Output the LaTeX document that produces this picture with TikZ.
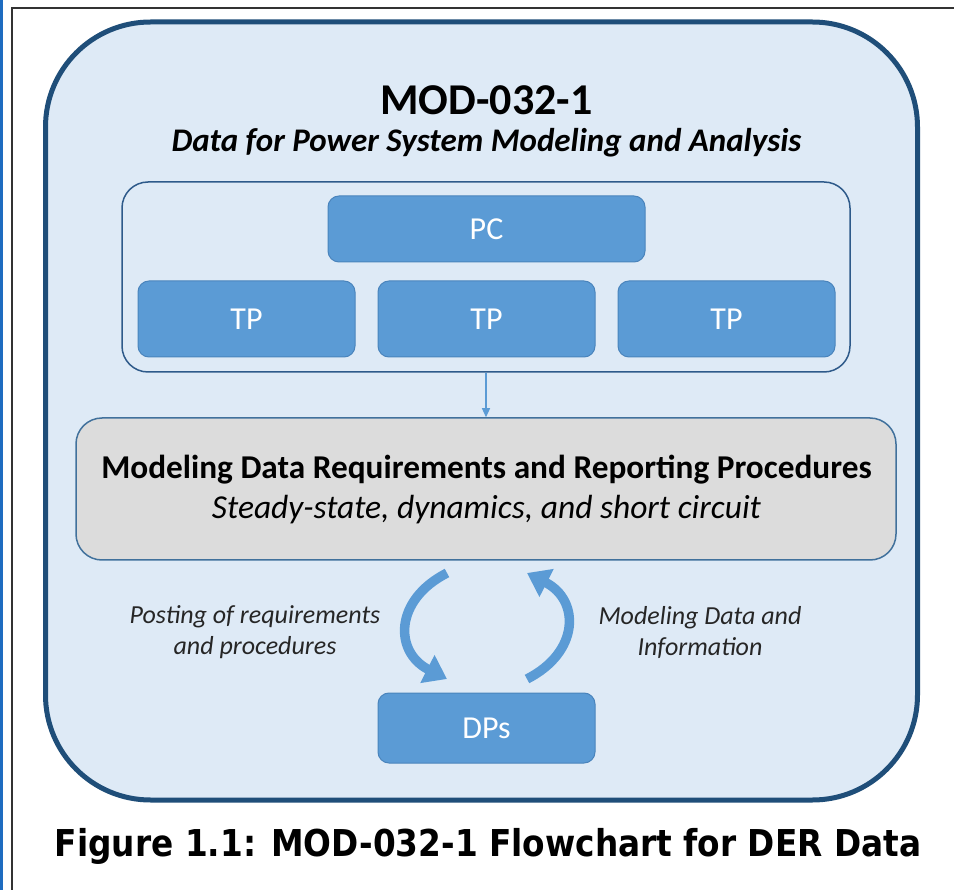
\documentclass[tikz,border=0pt]{standalone}
\usepackage{fontspec}
\setmainfont{Carlito}
\newfontfamily\capfont{DejaVu Sans}
\usetikzlibrary{arrows.meta}
\definecolor{frameblue}{HTML}{1E6CC0}
\definecolor{outerfill}{HTML}{DEEAF6}
\definecolor{outerline}{HTML}{1F4E79}
\definecolor{innerline}{HTML}{2E5A8A}
\definecolor{boxblue}{HTML}{5B9BD5}
\definecolor{boxline}{HTML}{4A84BC}
\definecolor{grayfill}{HTML}{DCDCDC}
\definecolor{grayline}{HTML}{41719C}
\tikzset{
  bluebox/.style={draw=boxline, line width=1pt, fill=boxblue, rounded corners=11pt,
    text=white, font=\fontsize{32}{36}\selectfont, inner sep=0pt},
  cyclearrow/.style={draw=boxblue, line width=9.5pt,
    -{Triangle[length=22pt,width=30pt]}},
  labeltext/.style={font=\itshape\fontsize{26}{31}\selectfont, align=center, text=black!85},
}
\begin{document}
\begin{tikzpicture}[x=1pt,y=-1pt]
\useasboundingbox (0,0) rectangle (954,890);
\fill[white] (0,0) rectangle (954,890);
% page frame
\draw[frameblue, line width=3pt] (1.5,0) -- (1.5,890);
\draw[black!80, line width=2pt] (12,890) -- (12,8) -- (954,8);
% outer standard box
\node[draw=outerline, line width=5pt, fill=outerfill, rounded corners=105pt,
  minimum width=872pt, minimum height=778pt, inner sep=0pt] (outer) at (481.5,411) {};
\node[font=\bfseries\fontsize{44}{48}\selectfont] (title) at (486.5,100) {MOD-032-1};
\node[font=\bfseries\itshape\fontsize{33}{36}\selectfont] (subtitle) at (486.5,143)
  {Data for Power System Modeling and Analysis};
% entities group
\node[draw=innerline, line width=1.5pt, rounded corners=26pt,
  minimum width=728pt, minimum height=190pt, inner sep=0pt] (group) at (486,277) {};
\node[bluebox, minimum width=317pt, minimum height=66pt] (pc) at (486.5,229) {PC};
\node[bluebox, minimum width=217pt, minimum height=76pt] (tp1) at (246.5,319) {TP};
\node[bluebox, minimum width=217pt, minimum height=76pt] (tp2) at (486.5,319) {TP};
\node[bluebox, minimum width=217pt, minimum height=76pt] (tp3) at (726.5,319) {TP};
% requirements box
\node[draw=grayline, line width=1.5pt, fill=grayfill, rounded corners=26pt,
  minimum width=820pt, minimum height=142pt, inner sep=0pt] (req) at (486,489) {};
\node[font=\bfseries\fontsize{33.3}{36}\selectfont] (reqtitle) at (486.5,470)
  {Modeling Data Requirements and Reporting Procedures};
\node[font=\itshape\fontsize{33.5}{36}\selectfont] (reqsub) at (486.5,510)
  {Steady-state, dynamics, and short circuit};
\draw[boxblue, line width=1.2pt, -{Triangle[length=9pt,width=8pt]}] (group.south) -- (req.north);
% data providers
\node[bluebox, minimum width=217pt, minimum height=70pt] (dp) at (486.5,728) {DPs};
\coordinate (la) at (447,573);
\coordinate (lb) at (447,679);
\coordinate (ra) at (527,679);
\coordinate (rb) at (527,573);
\draw[cyclearrow] (la) .. controls (394,600) and (394,652) .. (lb);
\draw[cyclearrow] (ra) .. controls (580,652) and (580,600) .. (rb);
\node[labeltext] (post) at (255,632) {Posting of requirements\\and procedures};
\node[labeltext] (info) at (700,632) {Modeling Data and\\Information};
% caption
\node[font=\capfont\bfseries\fontsize{37}{40}\selectfont] (caption) at (488,846)
  {\scalebox{0.885}[1]{Figure 1.1: MOD-032-1 Flowchart for DER Data}};
\end{tikzpicture}
\end{document}
